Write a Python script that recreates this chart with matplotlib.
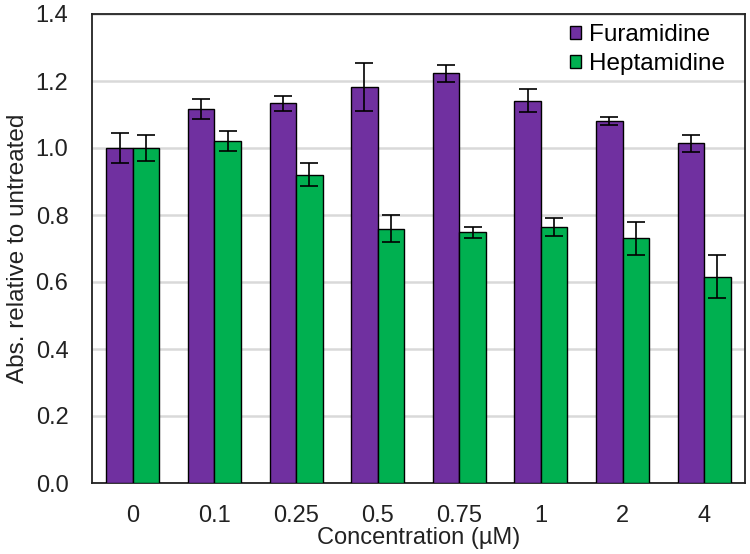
import numpy as np
import matplotlib.pyplot as plt

plt.rcParams['font.family'] = ['Liberation Sans', 'DejaVu Sans']

# dati
concentrations = ['0', '0.1', '0.25', '0.5', '0.75', '1', '2', '4']
furamidine = [1.00, 1.116, 1.133, 1.181, 1.223, 1.141, 1.081, 1.014]
furamidine_err = [0.044, 0.030, 0.023, 0.072, 0.026, 0.035, 0.011, 0.025]
heptamidine = [1.00, 1.021, 0.920, 0.759, 0.748, 0.763, 0.730, 0.616]
heptamidine_err = [0.038, 0.030, 0.034, 0.041, 0.017, 0.027, 0.048, 0.065]

purple = '#7030a0'
green = '#00b050'
fs = 17

fig = plt.figure(figsize=(7.5, 5.54), dpi=100)
ax = fig.add_axes([92 / 750, 1 - 483 / 554, (745 - 92) / 750, (483 - 14) / 554])

x = np.arange(len(concentrations))
w = 0.325
err_kw = dict(ecolor='black', elinewidth=1.2, capsize=6.5, capthick=1.2)
ax.bar(x - w / 2, furamidine, w, yerr=furamidine_err, color=purple,
       edgecolor='black', linewidth=1.0, label='Furamidine', error_kw=err_kw, zorder=3)
ax.bar(x + w / 2, heptamidine, w, yerr=heptamidine_err, color=green,
       edgecolor='black', linewidth=1.0, label='Heptamidine', error_kw=err_kw, zorder=3)

ax.set_xlim(-0.5, len(concentrations) - 0.5)
ax.set_ylim(0, 1.4)
ticks = np.arange(0, 1.41, 0.2)
ax.set_yticks(ticks)
ax.set_yticklabels([f'{v:.1f}' for v in ticks])
ax.set_xticks(x)
ax.set_xticklabels(concentrations)
ax.tick_params(axis='both', length=0, labelsize=fs, colors='#222222')
ax.tick_params(axis='x', pad=16)
ax.tick_params(axis='y', pad=17)
ax.yaxis.grid(True, color='#d9d9d9', linewidth=1.8, zorder=0)
ax.set_axisbelow(True)
for s in ax.spines.values():
    s.set_linewidth(1.3)
    s.set_color('#222222')

ax.set_xlabel('Concentration (µM)', fontsize=fs, labelpad=0, color='#222222')
ax.set_ylabel('Abs. relative to untreated', fontsize=fs + 0.5, labelpad=5, color='#222222')

ax.legend(loc='upper right', bbox_to_anchor=(0.995, 1.015), fontsize=fs + 0.5,
          frameon=False, handlelength=0.45, handleheight=0.45, handletextpad=0.3,
          borderaxespad=0.3, labelspacing=0.3)

fig.savefig('out.png', dpi=100)
